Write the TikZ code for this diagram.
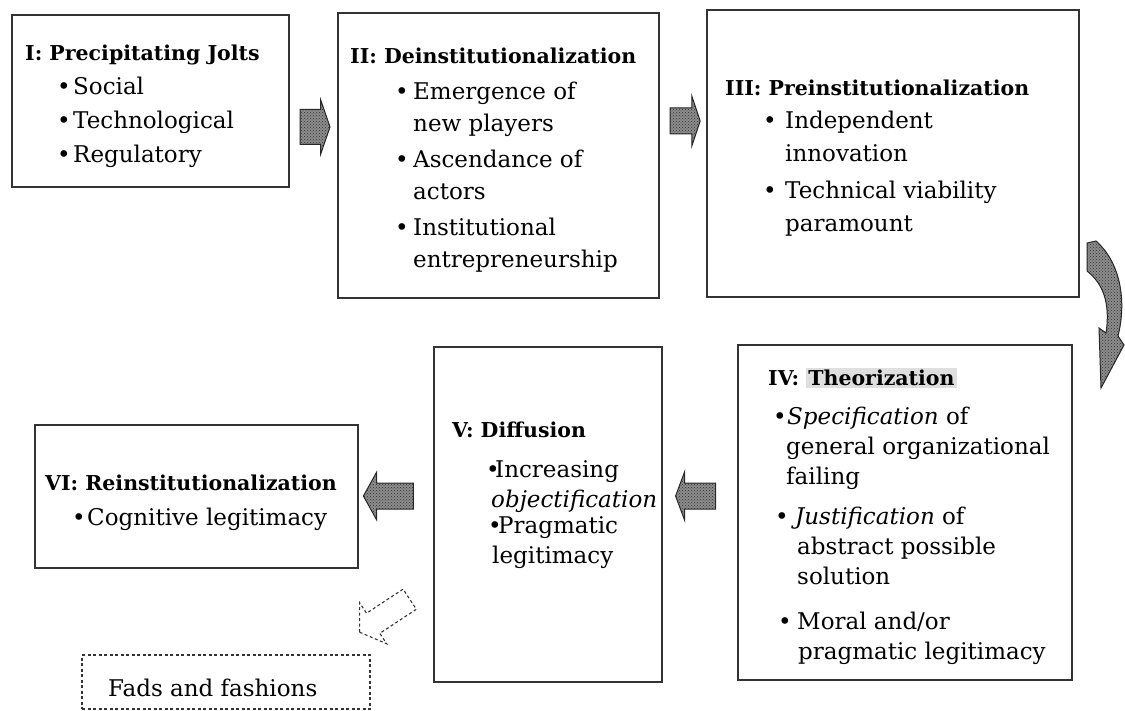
\documentclass[tikz,border=0pt]{standalone}
\usepackage{fontspec}
\setmainfont{DejaVu Serif}
\usetikzlibrary{shapes.arrows,patterns}

\newcommand{\ttl}[1]{{\fontsize{20.5}{30}\selectfont\bfseries #1}}
\newcommand{\bul}[2]{\hspace*{#1}\makebox[#2][l]{\textbullet}}
\newcommand{\hl}[1]{{\setlength{\fboxsep}{2pt}\colorbox{gray!25}{#1}}}

\tikzset{
  stagebox/.style={draw=black!80, line width=1.5pt, inner sep=0pt},
  stagetext/.style={anchor=north west, inner sep=0pt, align=left},
  arrowfill/.style={draw=black!85, line width=1pt, fill=black!45,
    postaction={pattern=crosshatch dots, pattern color=black!80}},
  blockarrow/.style={single arrow, arrowfill, inner xsep=0pt},
}

\begin{document}
\begin{tikzpicture}[x=1pt, y=-1pt]
\useasboundingbox (0,0) rectangle (1125,711);
% stage boxes
\node[stagebox, minimum width=277, minimum height=172] (jolts) at (150.5,101) {};
\node[stagebox, minimum width=321, minimum height=285] (deinst) at (498.5,155.5) {};
\node[stagebox, minimum width=372, minimum height=287] (preinst) at (893,153.5) {};
\node[stagebox, minimum width=334, minimum height=335] (theor) at (905,512.5) {};
\node[stagebox, minimum width=228, minimum height=335] (diff) at (548,514.5) {};
\node[stagebox, minimum width=323, minimum height=143] (reinst) at (196.5,496.5) {};
\node[draw=black!80, line width=1.3pt, dash pattern=on 3pt off 2.5pt,
  minimum width=288, minimum height=54] (fads) at (226,682) {};
% box texts
\node[stagetext, font=\fontsize{23}{34}\selectfont] (joltstxt) at (25,45)
  {\ttl{I: Precipitating Jolts}\\
   \bul{32pt}{16pt}Social\\
   \bul{32pt}{16pt}Technological\\
   \bul{32pt}{16pt}Regulatory};
\node[stagetext, font=\fontsize{23}{32}\selectfont] (deinsttxt) at (350,48)
  {\ttl{II: Deinstitutionalization}\\[4pt]
   \bul{45pt}{18pt}Emergence of\\
   \hspace*{63pt}new players\\[4pt]
   \bul{45pt}{18pt}Ascendance of\\
   \hspace*{63pt}actors\\[4pt]
   \bul{45pt}{18pt}Institutional\\
   \hspace*{63pt}entrepreneurship};
\node[stagetext, font=\fontsize{23}{33}\selectfont] (preinsttxt) at (725,80)
  {\ttl{III: Preinstitutionalization}\\
   \bul{38pt}{22pt}Independent\\
   \hspace*{60pt}innovation\\[4pt]
   \bul{38pt}{22pt}Technical viability\\
   \hspace*{60pt}paramount};
\node[stagetext, font=\fontsize{23}{30}\selectfont] (theortxt) at (768,368)
  {\ttl{IV: \hl{Theorization}}\\[9pt]
   \bul{5pt}{14pt}\textit{Specification} of\\
   \hspace*{18pt}general organizational\\
   \hspace*{18pt}failing\\[10pt]
   \bul{7pt}{20pt}\textit{Justification} of\\
   \hspace*{29pt}abstract possible\\
   \hspace*{29pt}solution\\[15pt]
   \bul{10pt}{19pt}Moral and/or\\
   \hspace*{30pt}pragmatic legitimacy};
\node[stagetext, font=\fontsize{23}{30}\selectfont] (difftxt) at (452,422)
  {\ttl{V: Diffusion}\\[10pt]
   \bul{34pt}{9pt}Increasing\\
   \hspace*{39pt}\textit{objectification}\\[-4pt]
   \bul{36pt}{10pt}Pragmatic\\
   \hspace*{40pt}legitimacy};
\node[stagetext, font=\fontsize{23}{35}\selectfont] (reinsttxt) at (45,475)
  {\ttl{VI: Reinstitutionalization}\\
   \bul{27pt}{15pt}Cognitive legitimacy};
\node[anchor=base west, inner sep=0pt, font=\fontsize{23}{26}\selectfont] (fadstxt) at (108,696) {Fads and fashions};
% block arrows between stages
\node[blockarrow, inner ysep=17pt, minimum height=30, single arrow head extend=9.5pt,
  single arrow tip angle=142] (jd) at (312,127) {};
\node[blockarrow, inner ysep=12.5pt, minimum height=30, single arrow head extend=11.5pt,
  single arrow tip angle=143] (dp) at (683,121) {};
\node[blockarrow, inner ysep=12.5pt, minimum height=40, single arrow head extend=11.5pt,
  single arrow tip angle=139, rotate=180] (td) at (698,496) {};
\node[blockarrow, inner ysep=12.5pt, minimum height=50, single arrow head extend=11pt,
  single arrow tip angle=122, rotate=180] (dr) at (392,496) {};
\node[single arrow, draw=black!80, line width=1.1pt, dash pattern=on 3pt off 2.5pt,
  inner xsep=0pt, inner ysep=11.5pt, minimum height=60, single arrow head extend=12.5pt,
  single arrow tip angle=113, rotate=213.4] (df) at (388,613.5) {};
% curved arrow from III down to IV
\draw[arrowfill] (1087,243) -- (1096,241)
  .. controls (1120,262) and (1127,300) .. (1118,336)
  -- (1124,345) -- (1101,388) -- (1099,328) -- (1106,333)
  .. controls (1111,300) and (1101,282) .. (1087,271) -- cycle;
\end{tikzpicture}
\end{document}
